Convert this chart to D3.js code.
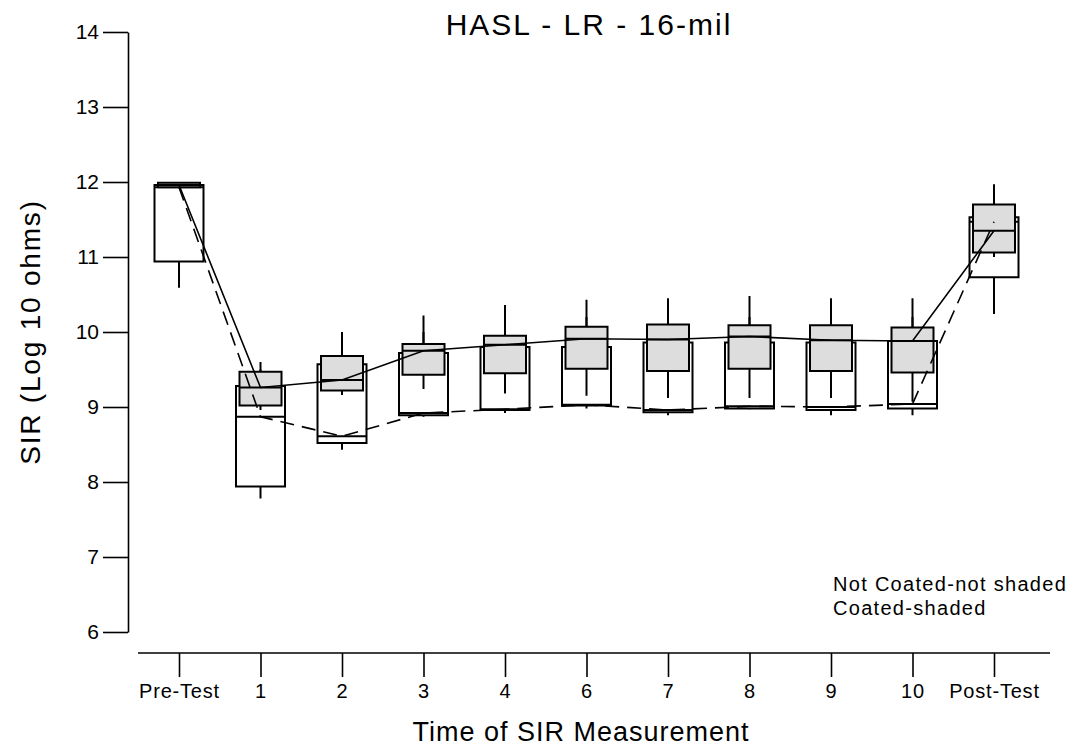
<!DOCTYPE html>
<html>
<head>
<meta charset="utf-8">
<script src="https://cdn.jsdelivr.net/npm/d3@7"></script>
<style>
  html, body { margin: 0; padding: 0; background: #fff; }
  svg { display: block; }
  text { font-family: "Liberation Sans", Arial, sans-serif; fill: #000; }
</style>
</head>
<body>
<svg id="chart" width="1078" height="750"></svg>
<script>
// Measurement occasions along the x axis
const categories = ["Pre-Test", "1", "2", "3", "4", "6", "7", "8", "9", "10", "Post-Test"];

// Not coated boards (open boxes): SIR in log10 ohms
const plainLow    = [10.59, 7.78, 8.43, 8.87, 8.92, 8.98, 8.89, 8.97, 8.89, 8.89, 10.24];
const plainQ1     = [10.94, 7.94, 8.52, 8.89, 8.96, 9.02, 8.93, 8.98, 8.96, 8.98, 10.73];
const plainMedian = [11.93, 8.87, 8.61, 8.92, 8.97, 9.03, 8.96, 9.01, 9.00, 9.04, 11.47];
const plainQ3     = [11.96, 9.28, 9.57, 9.72, 9.80, 9.80, 9.86, 9.86, 9.86, 9.88, 11.53];
const plainHigh   = [11.96, 9.50, 9.90, 10.00, 10.10, 10.20, 10.20, 10.20, 10.20, 10.20, 11.80];

// Coated boards (shaded boxes)
const coatedLow    = [11.93, 8.96, 9.16, 9.24, 9.18, 9.15, 9.12, 9.12, 9.12, 9.07, 11.00];
const coatedQ1     = [11.93, 9.02, 9.22, 9.43, 9.45, 9.51, 9.48, 9.51, 9.48, 9.46, 11.06];
const coatedMedian = [11.96, 9.26, 9.36, 9.75, 9.83, 9.91, 9.90, 9.94, 9.89, 9.88, 11.35];
const coatedQ3     = [11.99, 9.47, 9.68, 9.84, 9.95, 10.07, 10.10, 10.09, 10.09, 10.06, 11.70];
const coatedHigh   = [11.99, 9.60, 10.00, 10.22, 10.36, 10.43, 10.45, 10.48, 10.45, 10.45, 11.97];

const yTicks = [6, 7, 8, 9, 10, 11, 12, 13, 14];

const svg = d3.select("#chart");

const y = d3.scaleLinear().domain([6, 14]).range([632, 32]);
const x = d3.scalePoint().domain(categories).range([179, 994]);

// Y axis
const yAxis = svg.append("g")
  .attr("transform", "translate(128,0)")
  .call(d3.axisLeft(y).tickValues(yTicks).tickSize(25).tickSizeOuter(0).tickPadding(4));
yAxis.selectAll("path, line").attr("stroke", "#000").attr("stroke-width", 1.6);
yAxis.selectAll("text").attr("font-size", 21).style("font-family", "'Liberation Sans', Arial, sans-serif");

// X axis: free-standing base line with downward ticks
const xBase = 653;
svg.append("line")
  .attr("x1", 138).attr("x2", 1050).attr("y1", xBase).attr("y2", xBase)
  .attr("stroke", "#000").attr("stroke-width", 1.6);
const xAxis = svg.append("g")
  .attr("transform", `translate(0,${xBase})`)
  .call(d3.axisBottom(x).tickSize(24).tickSizeOuter(0).tickPadding(7));
xAxis.select(".domain").remove();
xAxis.selectAll("line").attr("stroke", "#000").attr("stroke-width", 1.6);
xAxis.selectAll("text").attr("font-size", 20).attr("letter-spacing", 0.8)
  .style("font-family", "'Liberation Sans', Arial, sans-serif");

// Box-and-whisker groups
function drawBoxes(low, q1, med, q3, high, width, fill) {
  const g = svg.append("g");
  categories.forEach((c, i) => {
    const cx = x(c);
    g.append("line").attr("x1", cx).attr("x2", cx)
      .attr("y1", y(q3[i])).attr("y2", y(high[i]))
      .attr("stroke", "#000").attr("stroke-width", 2);
    g.append("line").attr("x1", cx).attr("x2", cx)
      .attr("y1", y(q1[i])).attr("y2", y(low[i]))
      .attr("stroke", "#000").attr("stroke-width", 2);
    g.append("rect")
      .attr("x", cx - width / 2).attr("width", width)
      .attr("y", y(q3[i])).attr("height", Math.max(0, y(q1[i]) - y(q3[i])))
      .attr("fill", fill).attr("stroke", "#000").attr("stroke-width", 2);
    g.append("line")
      .attr("x1", cx - width / 2).attr("x2", cx + width / 2)
      .attr("y1", y(med[i])).attr("y2", y(med[i]))
      .attr("stroke", "#000").attr("stroke-width", 2);
  });
}

drawBoxes(plainLow, plainQ1, plainMedian, plainQ3, plainHigh, 49, "#ffffff");
drawBoxes(coatedLow, coatedQ1, coatedMedian, coatedQ3, coatedHigh, 42, "#dddddd");

// Median trend lines
const line = d3.line().x((d, i) => x(categories[i])).y(d => y(d));
svg.append("path").datum(plainMedian)
  .attr("d", line).attr("fill", "none")
  .attr("stroke", "#000").attr("stroke-width", 1.6).attr("stroke-dasharray", "14,8");
svg.append("path").datum(coatedMedian)
  .attr("d", line).attr("fill", "none")
  .attr("stroke", "#000").attr("stroke-width", 1.6);

// Titles
svg.append("text").attr("x", 589).attr("y", 35).attr("text-anchor", "middle")
  .attr("font-size", 30).attr("letter-spacing", 2)
  .text("HASL - LR - 16-mil");
svg.append("text").attr("x", 581).attr("y", 741).attr("text-anchor", "middle")
  .attr("font-size", 27).attr("letter-spacing", 1)
  .text("Time of SIR Measurement");
svg.append("text")
  .attr("transform", "translate(40,332) rotate(-90)")
  .attr("text-anchor", "middle")
  .attr("font-size", 28).attr("letter-spacing", 1.8)
  .text("SIR (Log 10 ohms)");

// Legend note
svg.append("text").attr("x", 833).attr("y", 591)
  .attr("font-size", 20).attr("letter-spacing", 1.3)
  .text("Not Coated-not shaded");
svg.append("text").attr("x", 833).attr("y", 615)
  .attr("font-size", 20).attr("letter-spacing", 1.3)
  .text("Coated-shaded");
</script>
</body>
</html>
